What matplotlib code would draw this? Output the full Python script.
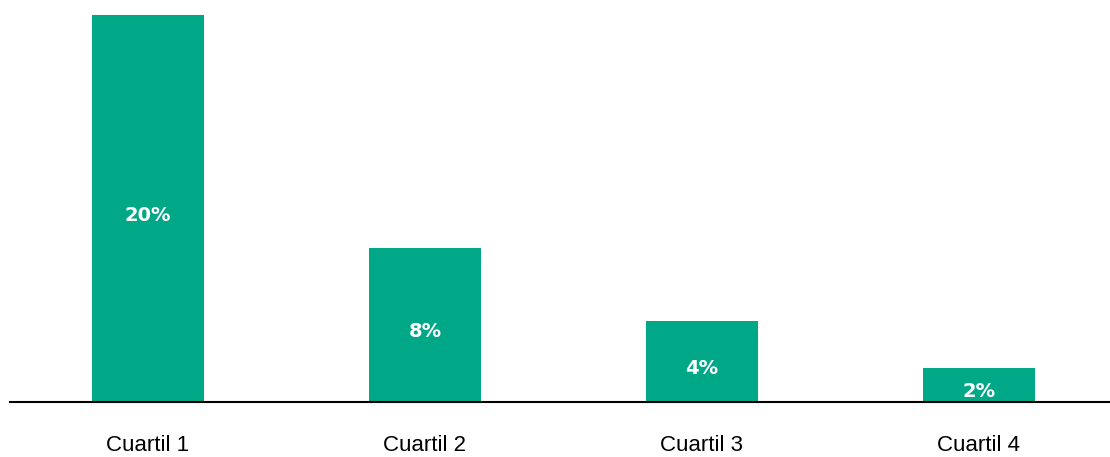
import numpy as np
import matplotlib.pyplot as plt

plt.rcParams['font.family'] = ['Liberation Sans', 'DejaVu Sans']

categories = ['Cuartil 1', 'Cuartil 2', 'Cuartil 3', 'Cuartil 4']
values = [20.0, 7.96, 4.19, 1.76]

bar_color = '#00A887'

fig = plt.figure(figsize=(11.10, 4.57), dpi=100)
ax = fig.add_axes([10 / 1110, 55 / 457, 1100 / 1110, 387 / 457])

x = np.arange(len(categories))
bars = ax.bar(x, values, width=0.404, color=bar_color)

# value labels in the middle of each bar
for xi, v in zip(x, values):
    ax.annotate(f'{v:.0f}%', (xi, v / 2), xytext=(0, -5), textcoords='offset points',
                ha='center', va='center', color='white', fontsize=14,
                fontweight='bold', family='DejaVu Sans')

ax.set_xlim(-0.498, 3.473)
ax.set_ylim(0, 20)
ax.set_xticks(x)
ax.set_xticklabels(categories, fontsize=16)
ax.tick_params(axis='x', length=0, pad=24)
ax.set_yticks([])
for side in ['top', 'right', 'left']:
    ax.spines[side].set_visible(False)
ax.spines['bottom'].set_linewidth(1.5)

fig.savefig('out.png', dpi=100)
